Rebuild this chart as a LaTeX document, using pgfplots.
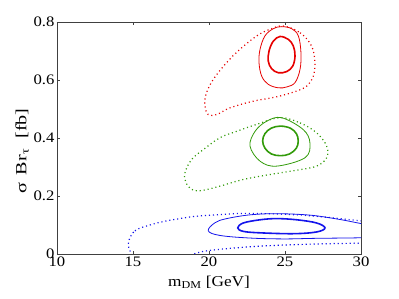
\documentclass[border=0pt]{standalone}
\usepackage{fontspec}
\setmainfont{Liberation Serif}[FakeStretch=1.15]
\newfontfamily\ylabfont{Liberation Serif}[FakeStretch=1.3]
\usepackage{pgfplots}
\pgfplotsset{compat=1.18}
\definecolor{cred}{RGB}{230,0,0}
\definecolor{cgreen}{RGB}{50,155,10}
\definecolor{cblue}{RGB}{20,20,235}
\begin{document}
\begin{tikzpicture}
\useasboundingbox (-57pt,-45pt) rectangle (342pt,254pt);
\begin{axis}[
  scale only axis, width=304pt, height=232pt,
  at={(0,0)}, anchor=south west,
  xmin=10, xmax=30, ymin=0, ymax=0.8,
  xtick={10,15,20,25,30}, ytick={0,0.2,0.4,0.6,0.8},
  yticklabel style={/pgf/number format/fixed, /pgf/number format/precision=1},
  /pgf/number format/assume math mode=true,
  tick align=inside, major tick length=3pt,
  axis line style={black!75}, tick style={black!75},
  ticklabel style={font=\fontsize{14.5}{16}\selectfont},
  xticklabel style={yshift=1pt},
  yticklabel style={xshift=1pt},
  xlabel={m\textsubscript{DM} [GeV]},
  xlabel style={font=\fontsize{15}{17}\selectfont, yshift=-3pt},
  ylabel={σ\, Br\textsubscript{τ}\,\, [fb]},
  ylabel style={font=\ylabfont\fontsize{15.5}{17}\selectfont, at={(ticklabel cs:0.444)}, yshift=-2pt},
  clip=true,
]
% red
\addplot[cred, line width=1.6pt, smooth cycle, tension=0.6] coordinates {
(24.67,0.750)(25.22,0.740)(25.55,0.717)(25.66,0.683)(25.51,0.648)(25.11,0.629)
(24.56,0.625)(24.12,0.639)(23.90,0.665)(23.95,0.700)(24.23,0.734)};
\addplot[cred, line width=0.8pt, smooth cycle, tension=0.6] coordinates {
(24.78,0.784)(25.44,0.777)(25.88,0.752)(26.05,0.694)(25.99,0.637)(25.66,0.591)
(25.11,0.576)(24.56,0.573)(23.90,0.585)(23.47,0.613)(23.29,0.660)(23.36,0.706)
(23.68,0.752)(24.23,0.777)};
\addplot[cred, line width=1.2pt, dash pattern=on 1.1pt off 2.9pt, smooth cycle, tension=0.6] coordinates {
(24.89,0.786)(25.99,0.763)(26.75,0.717)(26.97,0.660)(26.86,0.613)(26.43,0.579)
(25.77,0.562)(24.45,0.542)(22.92,0.527)(21.38,0.504)(20.51,0.481)(19.95,0.481)
(19.74,0.510)(19.80,0.550)(20.28,0.602)(21.16,0.660)(22.04,0.706)(23.14,0.752)
(24.01,0.775)};
% green
\addplot[cgreen, line width=1.6pt, smooth cycle, tension=0.6] coordinates {
(24.70,0.441)(25.35,0.434)(25.75,0.415)(25.87,0.390)(25.75,0.365)(25.30,0.345)
(24.70,0.339)(24.10,0.345)(23.68,0.365)(23.53,0.390)(23.68,0.415)(24.10,0.434)};
\addplot[cgreen, line width=0.8pt, smooth cycle, tension=0.6] coordinates {
(24.78,0.470)(26.20,0.429)(26.64,0.383)(26.32,0.332)(24.45,0.303)(23.36,0.320)
(22.70,0.372)(23.03,0.423)(23.80,0.458)};
\addplot[cgreen, line width=1.2pt, dash pattern=on 1.1pt off 2.9pt, smooth cycle, tension=0.6] coordinates {
(24.67,0.470)(25.99,0.452)(27.08,0.418)(27.74,0.372)(27.74,0.332)(27.08,0.303)
(25.77,0.289)(24.01,0.274)(22.26,0.257)(20.72,0.234)(19.63,0.220)(18.97,0.220)
(18.49,0.245)(18.42,0.280)(18.86,0.326)(19.63,0.360)(20.72,0.401)(21.82,0.423)
(23.14,0.447)};
% blue
\addplot[cblue, line width=1.6pt, smooth cycle, tension=0.6] coordinates {
(21.89,0.090)(22.26,0.107)(23.36,0.118)(24.45,0.122)(25.77,0.118)(27.08,0.107)
(27.63,0.090)(27.08,0.076)(25.55,0.070)(23.36,0.073)(22.26,0.078)};
\addplot[cblue, line width=0.8pt, smooth cycle, tension=0.6] coordinates {
(19.95,0.080)(20.40,0.108)(21.16,0.122)(22.70,0.135)(24.45,0.139)(26.64,0.134)
(28.50,0.120)(30.00,0.105)(31.50,0.090)(32.20,0.075)(31.50,0.060)(30.00,0.056)
(27.00,0.054)(24.90,0.052)(22.70,0.055)(20.72,0.064)};
\addplot[cblue, line width=1.2pt, dash pattern=on 1.1pt off 2.9pt, smooth cycle, tension=0.6] coordinates {
(14.70,0.040)(15.13,0.080)(16.12,0.100)(17.20,0.114)(18.97,0.129)(20.50,0.135)
(22.26,0.140)(24.45,0.138)(26.64,0.132)(29.30,0.118)(31.00,0.108)(32.20,0.080)
(31.00,0.040)(29.30,0.037)(26.64,0.034)(23.36,0.027)(20.50,0.015)(19.23,0.004)
(18.00,-0.020)(16.50,-0.035)(15.20,-0.020)(14.85,0.005)};
\end{axis}
\end{tikzpicture}
\end{document}
